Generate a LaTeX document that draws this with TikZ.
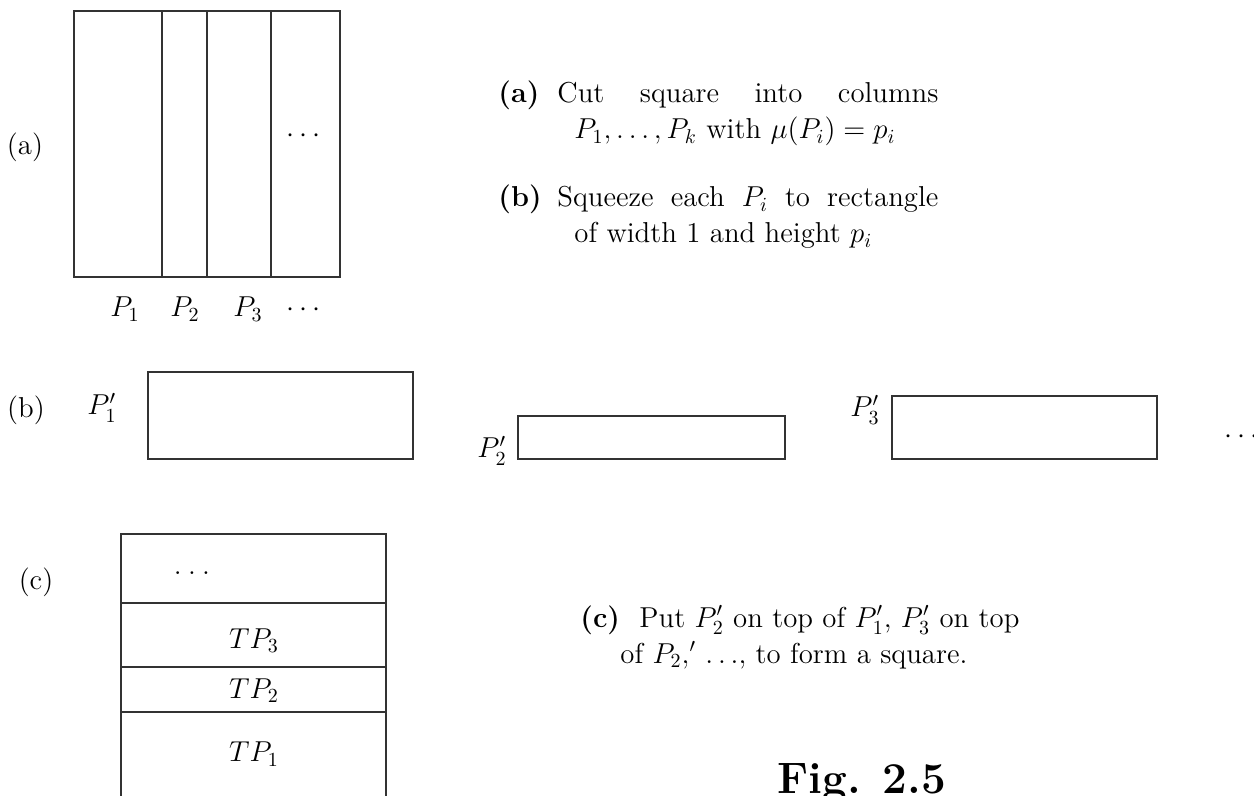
\documentclass[tikz,border=0pt]{standalone}
\usepackage{amsmath}
\usepackage{amssymb}
\usepackage{tikz}
\usetikzlibrary{positioning}
\definecolor{figline}{HTML}{333333}
\tikzset{
  cutLine/.style={draw=figline, line width=0.6pt},
  partLabel/.style={font=\fontsize{14.4}{18}\selectfont, inner sep=0pt, anchor=base},
  stepText/.style={font=\fontsize{14.4}{18}\selectfont, inner sep=0pt, anchor=base west, align=justify}
}
\newcommand{\itemlab}[1]{\makebox[29.5pt][l]{\textbf{(#1)}}}

\begin{document}
\begin{tikzpicture}[x=0.5pt,y=-0.5pt]
  \useasboundingbox (0,0) rectangle (1254,796);
  % (a) square cut into columns
  \draw[cutLine] (74,11) rectangle (340,277);
  \foreach \x in {162,207,271}
    \draw[cutLine] (\x,11) -- (\x,277);
  \node[partLabel] (labA) at (25,155) {(a)};
  \node[partLabel] (dotsA) at (306,143) {$\cdots$};
  \foreach \x/\lab [count=\i] in {125/P_1,185/P_2,248/P_3,306/\cdots}
    \node[partLabel] (col\i) at (\x,317) {$\lab$};
  % (b) squeezed rectangles
  \node[partLabel] (labB) at (26,418) {(b)};
  \foreach \xa/\xb/\yt/\xl/\yl/\i in {148/413/372/102/415/1,518/785/416/492/458/2,892/1157/396/865/417/3} {
    \draw[cutLine] (\xa,\yt) rectangle (\xb,459);
    \node[partLabel] (sq\i) at (\xl,\yl) {$P'_\i$};
  }
  \node[partLabel] (dotsB) at (1244,444) {$\cdots$};
  % (c) stacked rectangles
  \node[partLabel] (labC) at (36,590) {(c)};
  \draw[cutLine] (121,534) rectangle (386,799);
  \foreach \y in {603,667,712}
    \draw[cutLine] (121,\y) -- (386,\y);
  \node[partLabel] (dotsC) at (192,575) {$.\:.\:.$};
  \foreach \y/\i in {762/1,698/2,648/3}
    \node[partLabel] (tp\i) at (254,\y) {$TP_\i$};
  % steps
  \node[stepText, text width=220pt] (stepA) at (498,103)
    {\hangindent=38pt\hangafter=1 \itemlab{a}Cut square into columns\linebreak $P_1,\ldots,P_k$ with $\mu(P_i)=p_i$\par};
  \node[stepText, text width=220pt] (stepB) at (498,207)
    {\hangindent=38pt\hangafter=1 \itemlab{b}Squeeze each $P_i$ to rectangle\linebreak of width 1 and height $p_i$\par};
  \node[stepText, text width=240pt] (stepC) at (580,627)
    {\hangindent=20pt\hangafter=1 \itemlab{c}Put $P'_2$ on top of $P'_1$, $P'_3$ on top\newline of $P_2,'$ $\ldots$, to form a square.\par};
  \node[font=\fontsize{22}{26}\selectfont\bfseries, inner sep=0pt, anchor=base west] (figNo) at (777,793) {Fig. 2.5};
\end{tikzpicture}
\end{document}
